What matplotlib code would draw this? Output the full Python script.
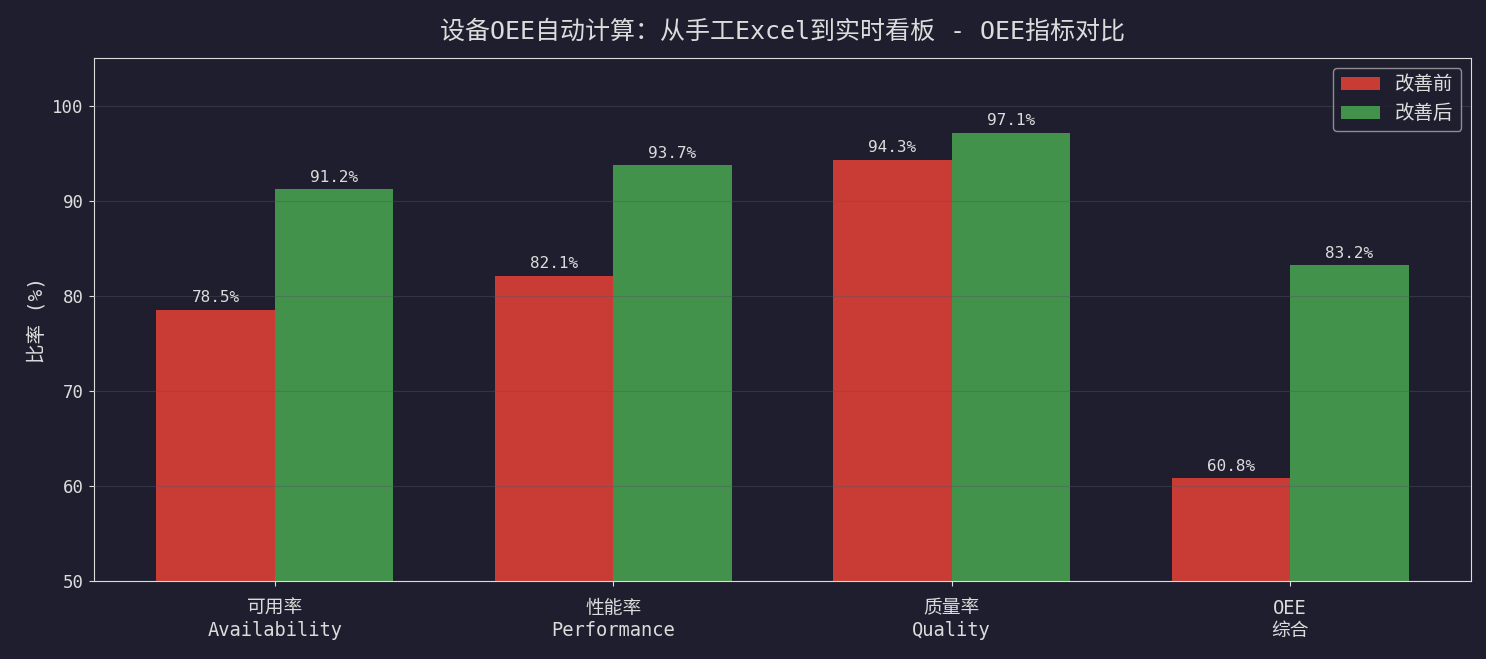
import numpy as np
import matplotlib
matplotlib.use('Agg')
import matplotlib.pyplot as plt

plt.rcParams['font.family'] = ['DejaVu Sans Mono', 'Noto Sans CJK SC']
plt.rcParams['axes.unicode_minus'] = False

# data
categories = ['可用率\nAvailability', '性能率\nPerformance', '质量率\nQuality', 'OEE\n综合']
before = [78.5, 82.1, 94.3, 60.8]
after = [91.2, 93.7, 97.1, 83.2]

bg = '#1e1e2e'
fg = '#dcdcdc'

fig, ax = plt.subplots(figsize=(14.86, 6.59), dpi=100)
fig.patch.set_facecolor(bg)
ax.set_facecolor(bg)

x = np.arange(len(categories))
w = 0.35
b1 = ax.bar(x - w / 2, before, w, color='#c93b35', label='改善前')
b2 = ax.bar(x + w / 2, after, w, color='#43924b', label='改善后')

for bars in (b1, b2):
    for bar in bars:
        h = bar.get_height()
        ax.text(bar.get_x() + bar.get_width() / 2, h + 0.5, f'{h:.1f}%',
                ha='center', va='bottom', fontsize=11.5, color=fg)

ax.set_ylim(50, 105)
ax.set_xticks(x)
ax.set_xticklabels(categories, fontsize=13.5, color=fg)
ax.tick_params(axis='y', labelsize=12.5, colors=fg)
ax.tick_params(axis='x', colors=fg, pad=9)
ax.set_ylabel('比率 (%)', fontsize=14, color=fg)
ax.set_title('设备OEE自动计算：从手工Excel到实时看板 - OEE指标对比', fontsize=18, color=fg, pad=14)
ax.grid(axis='y', color='#555566', alpha=0.4, linewidth=0.8)
ax.set_axisbelow(False)
for s in ax.spines.values():
    s.set_color(fg)

leg = ax.legend(fontsize=14, facecolor=bg, edgecolor='#aaaaaa', labelcolor=fg)

plt.subplots_adjust(left=0.063, right=0.99, top=0.912, bottom=0.118)
fig.savefig('out.png', facecolor=bg)
